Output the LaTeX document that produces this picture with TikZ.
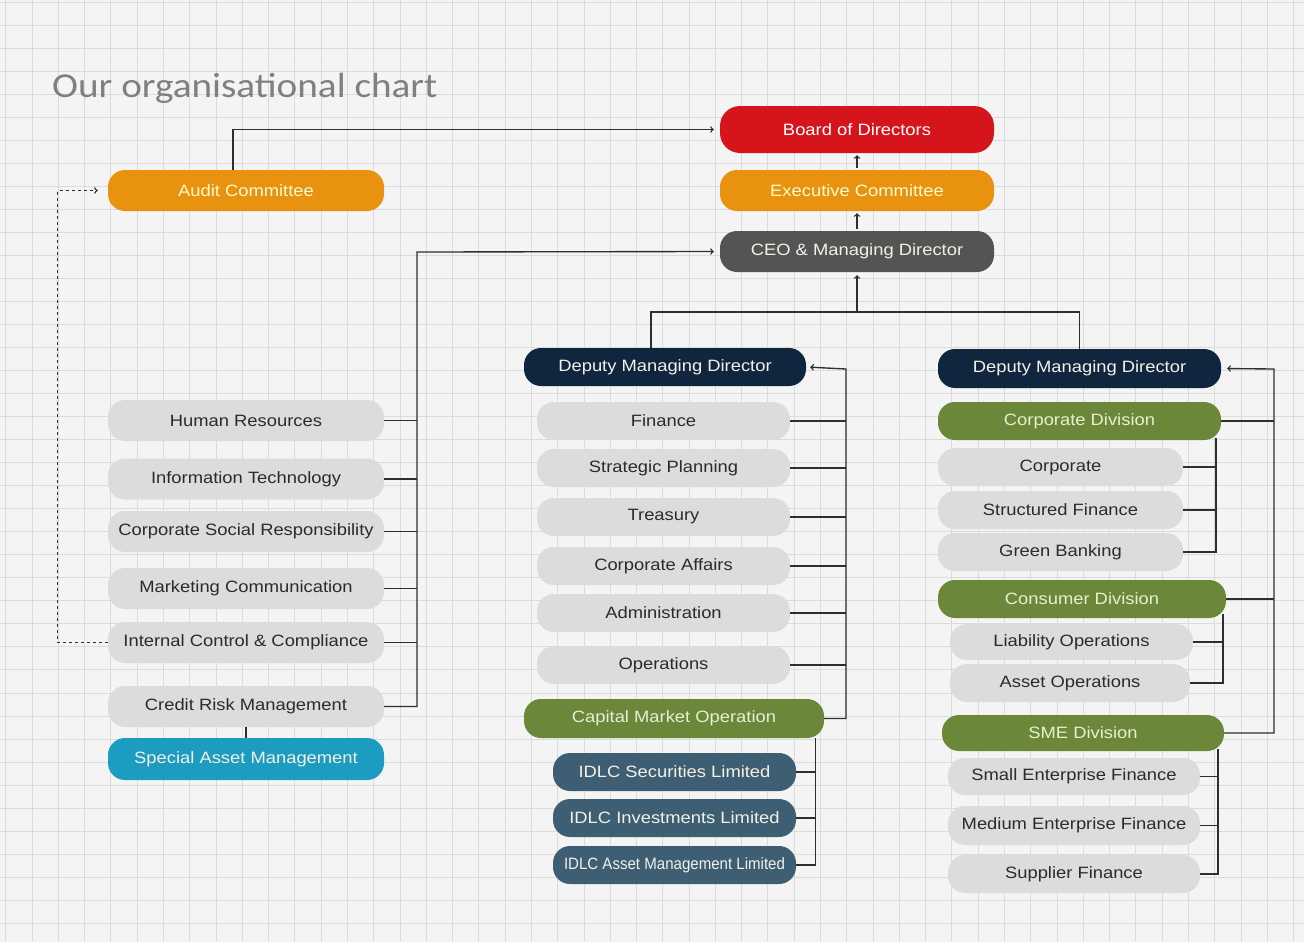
\documentclass[tikz,border=0pt]{standalone}
\usepackage{fontspec}
\setmainfont{Liberation Sans}[FakeStretch=1.12]
\newfontfamily\titlefont{Carlito}[FakeStretch=1.12]
\usetikzlibrary{positioning}

\definecolor{paper}{HTML}{F4F4F4}
\definecolor{gridgray}{HTML}{DBDBDB}
\definecolor{linegray}{HTML}{2E2E2E}
\definecolor{bodred}{HTML}{D5141C}
\definecolor{comorange}{HTML}{E8920F}
\definecolor{ceogray}{HTML}{545454}
\definecolor{dmdnavy}{HTML}{10263F}
\definecolor{divgreen}{HTML}{6B873A}
\definecolor{subslate}{HTML}{3E5F73}
\definecolor{samteal}{HTML}{1C9CC0}
\definecolor{unitgray}{HTML}{DCDCDC}
\definecolor{unittext}{HTML}{2B2B2B}
\definecolor{paletext}{HTML}{F3F0E6}
\definecolor{greentext}{HTML}{E4F0D0}

\tikzset{
  box/.style={rounded corners=17pt, minimum height=40, inner sep=0pt,
    font=\fontsize{16.4}{16}\selectfont},
  head/.style={box, fill=#1, text=paletext},
  unit/.style={box, fill=unitgray, text=unittext},
  link/.style={draw=linegray, line width=1.35pt},
  gridline/.style={draw=gridgray, line width=0.7pt},
}

\begin{document}
\begin{tikzpicture}[x=1pt,y=-1pt]
\useasboundingbox (0,0) rectangle (1304,942);
\fill[paper] (0,0) rectangle (1304,942);
\foreach \i in {0,...,49} \draw[gridline] ({5.7+26.28*\i},0) -- ++(0,942);
\foreach \j in {0,...,40} \draw[gridline] (0,{1.97+23.03*\j}) -- ++(1304,0);

\node[anchor=base west, text=black!50, font=\titlefont\fontsize{35}{35}\selectfont, inner sep=0pt] (title) at (52,97) {Our organisational chart};

% top of the chart
\node[head=bodred, text=white, minimum width=274, minimum height=47, rounded corners=20pt] (board) at (857,129.5) {Board of Directors};
\node[head=comorange, text=yellow!20, minimum width=274, minimum height=41] (exec) at (857,190.5) {Executive Committee};
\node[head=ceogray, minimum width=274, minimum height=41] (ceo) at (857,251.5) {CEO \& Managing Director};
\node[head=comorange, text=yellow!20, minimum width=276, minimum height=41] (audit) at (246,190.5) {Audit Committee};

% left column
\node[unit, minimum width=276, minimum height=41] (hr) at (246,420.5) {Human Resources};
\node[unit, minimum width=276, minimum height=41] (it) at (246,479) {Information Technology};
\node[unit, minimum width=276, minimum height=41] (csr) at (246,531.5) {Corporate Social Responsibility};
\node[unit, minimum width=276, minimum height=41] (mc) at (246,588.5) {Marketing Communication};
\node[unit, minimum width=276, minimum height=41] (icc) at (246,642.5) {Internal Control \& Compliance};
\node[unit, minimum width=276, minimum height=41] (crm) at (246,706.5) {Credit Risk Management};
\node[head=samteal, minimum width=276, minimum height=42] (sam) at (246,759) {Special Asset Management};

% middle column
\node[head=dmdnavy, minimum width=282, minimum height=38] (dmdA) at (665,367) {Deputy Managing Director};
\node[unit, minimum width=253, minimum height=38] (fin) at (663.5,421) {Finance};
\node[unit, minimum width=253, minimum height=38] (sp) at (663.5,468) {Strategic Planning};
\node[unit, minimum width=253, minimum height=38] (tre) at (663.5,517) {Treasury};
\node[unit, minimum width=253, minimum height=38] (ca) at (663.5,566) {Corporate Affairs};
\node[unit, minimum width=253, minimum height=38] (adm) at (663.5,613) {Administration};
\node[unit, minimum width=253, minimum height=38] (ops) at (663.5,665) {Operations};
\node[head=divgreen, text=greentext, minimum width=300, minimum height=39] (cmo) at (674,718.5) {Capital Market Operation};
\node[head=subslate, minimum width=243, minimum height=38] (sec) at (674.5,772) {IDLC Securities Limited};
\node[head=subslate, minimum width=243, minimum height=38] (inv) at (674.5,818) {IDLC Investments Limited};
\node[head=subslate, minimum width=243, minimum height=38] (amc) at (674.5,865) {\scalebox{0.82}[1]{IDLC Asset Management Limited}};

% right column
\node[head=dmdnavy, minimum width=283, minimum height=39] (dmdB) at (1079.5,368.5) {Deputy Managing Director};
\node[head=divgreen, text=greentext, minimum width=283, minimum height=38] (corpdiv) at (1079.5,421) {Corporate Division};
\node[unit, minimum width=245, minimum height=38] (corp) at (1060.5,467) {Corporate};
\node[unit, minimum width=245, minimum height=38] (sf) at (1060.5,510) {Structured Finance};
\node[unit, minimum width=245, minimum height=38] (gb) at (1060.5,552) {Green Banking};
\node[head=divgreen, text=greentext, minimum width=288, minimum height=38] (consdiv) at (1082,599) {Consumer Division};
\node[unit, minimum width=243, minimum height=36] (lo) at (1071.5,642) {Liability Operations};
\node[unit, minimum width=240, minimum height=38] (ao) at (1070,683) {Asset Operations};
\node[head=divgreen, text=greentext, minimum width=282, minimum height=36] (smediv) at (1083,733) {SME Division};
\node[unit, minimum width=252, minimum height=37] (sef) at (1074,776.5) {Small Enterprise Finance};
\node[unit, minimum width=252, minimum height=39] (mef) at (1074,825.5) {Medium Enterprise Finance};
\node[unit, minimum width=252, minimum height=38] (supf) at (1074,874) {Supplier Finance};

\coordinate (hub) at (857,312);
\coordinate (spineL) at (417,252);
\coordinate (spineM) at (846,369);
\coordinate (spineR) at (1274,369);
\coordinate (spineCD) at (1216,438);
\coordinate (spineCo) at (1223,614);
\coordinate (spineS) at (1218,749);

% reporting lines
\draw[link,->,shorten <=2pt,shorten >=2pt] (exec.north) -- (board.south);
\draw[link,->,shorten <=2pt,shorten >=2pt] (ceo.north) -- (exec.south);
\draw[link,->,shorten >=6pt] ([xshift=-13pt]audit.north) |- (board.west);
\draw[link,dashed,->,shorten >=10pt] (icc.west) -- ++(-50,0) |- (audit.west);
\draw[link] (crm.south) -- (sam.north);

\draw[link,->,shorten >=6pt] (crm.east) -| (spineL) -- (ceo.west);
\foreach \n in {hr,it,csr,mc,icc}
  \draw[link] (\n.east) -- (\n.east -| spineL);

\draw[link,->,shorten >=3pt] (hub) -- (ceo.south);
\draw[link] ([xshift=-14pt]dmdA.north) |- (hub) -| (dmdB.north);

\draw[link,->,shorten >=4pt] (cmo.east) -| (spineM) -- (dmdA.east);
\foreach \n in {fin,sp,tre,ca,adm,ops}
  \draw[link] (\n.east) -- (\n.east -| spineM);
\draw[link] ([xshift=-9pt]cmo.south east) |- (amc.east);
\foreach \n in {sec,inv}
  \draw[link] (\n.east) -- (\n.east -| amc.east) -- ++(19,0);

\draw[link,->,shorten >=6pt] (smediv.east) -| (spineR) -- (dmdB.east);
\foreach \n in {corpdiv,consdiv}
  \draw[link] (\n.east) -- (\n.east -| spineR);
\draw[link] (spineCD) |- (gb.east);
\foreach \n in {corp,sf}
  \draw[link] (\n.east) -- (\n.east -| spineCD);
\draw[link] (spineCo) |- (ao.east);
\draw[link] (lo.east) -- (lo.east -| spineCo);
\draw[link] (spineS) |- (supf.east);
\foreach \n in {sef,mef}
  \draw[link] (\n.east) -- (\n.east -| spineS);
\end{tikzpicture}
\end{document}
